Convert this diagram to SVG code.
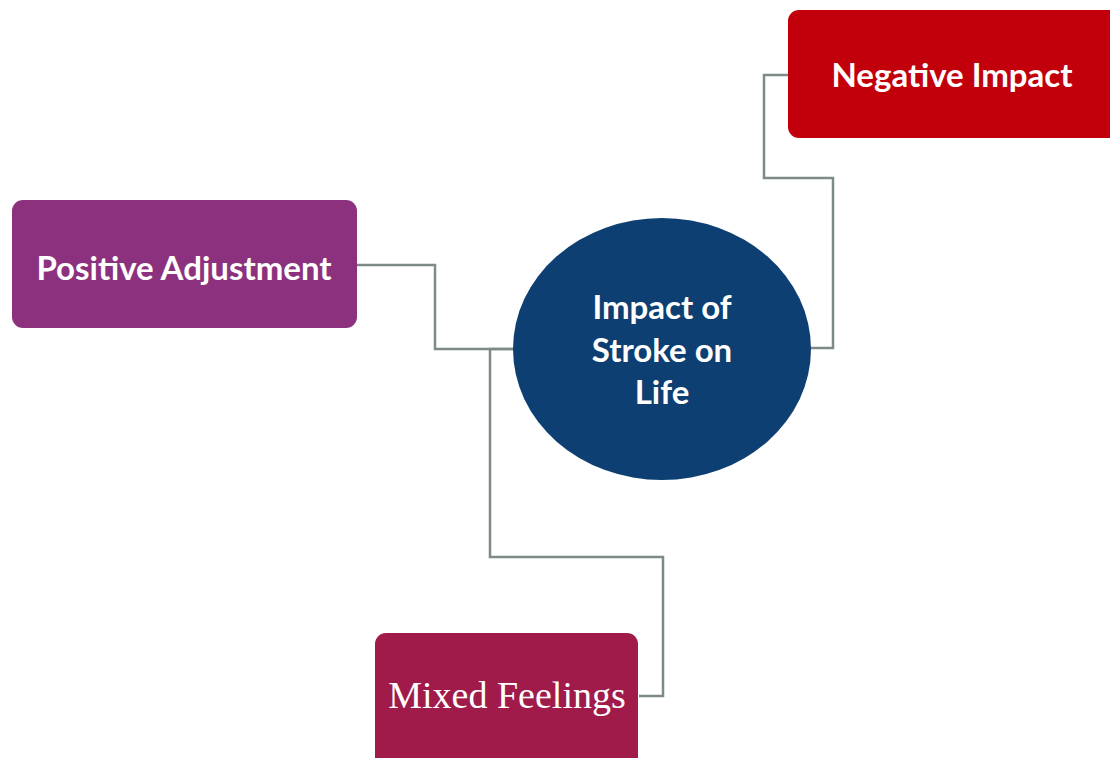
<svg xmlns="http://www.w3.org/2000/svg" width="1110" height="758" viewBox="0 0 1110 758">
  <style>
    .link { fill: none; stroke: #7d8a88; stroke-width: 2.5; }
    .lbl { fill: #ffffff; font-family: Lato, "Liberation Sans", sans-serif; font-weight: bold; text-anchor: middle; }
    .serif { fill: #ffffff; font-family: "Liberation Serif", serif; text-anchor: middle; }
  </style>
  <rect width="1110" height="758" fill="#ffffff"/>

  <!-- elbow connectors from the hub to each branch -->
  <g id="connectors">
    <polyline class="link" points="788,75 764,75 764,178 833,178 833,348 810,348"/>
    <polyline class="link" points="357,265 435,265 435,349 514,349"/>
    <polyline class="link" points="514,349 490,349 490,557 663,557 663,696 639,696"/>
  </g>

  <g id="hub">
    <ellipse cx="662" cy="349" rx="149" ry="131" fill="#0d3f73"/>
    <text class="lbl" x="662" y="319" font-size="33">Impact of</text>
    <text class="lbl" x="662" y="362" font-size="33">Stroke on</text>
    <text class="lbl" x="662" y="404" font-size="33">Life</text>
  </g>

  <g id="negative-impact">
    <rect x="788" y="10" width="340" height="128" rx="11" fill="#c2000b"/>
    <text class="lbl" x="952" y="87" font-size="33">Negative Impact</text>
  </g>

  <g id="positive-adjustment">
    <rect x="12" y="200" width="345" height="128" rx="11" fill="#8c317d"/>
    <text class="lbl" x="184" y="280" font-size="33">Positive Adjustment</text>
  </g>

  <g id="mixed-feelings">
    <rect x="375" y="633" width="263" height="140" rx="11" fill="#a01b4a"/>
    <text class="serif" x="507" y="708" font-size="38">Mixed Feelings</text>
  </g>
</svg>
